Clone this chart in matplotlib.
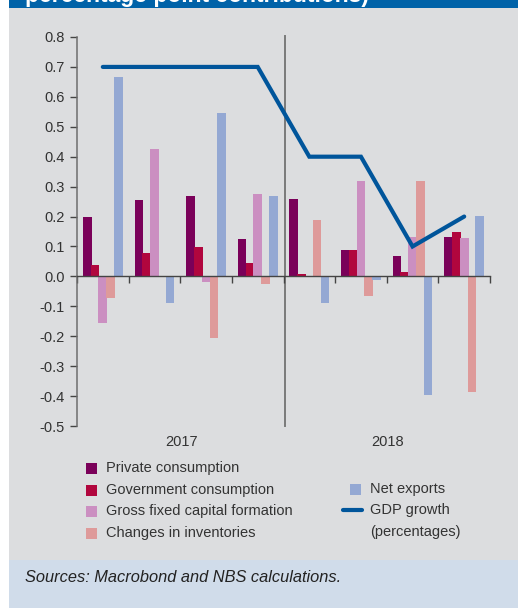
import numpy as np
import matplotlib
matplotlib.use("Agg")
import matplotlib.pyplot as plt
from matplotlib.patches import Rectangle
from matplotlib.lines import Line2D
from matplotlib.ticker import FixedLocator, FixedFormatter

plt.rcParams['font.family'] = ['Liberation Sans', 'DejaVu Sans']

# quarterly contributions, Q1 2017 .. Q4 2018
private = [0.20, 0.255, 0.268, 0.126, 0.26, 0.087, 0.067, 0.13]
government = [0.037, 0.077, 0.097, 0.046, 0.007, 0.087, 0.013, 0.147]
gfcf = [-0.157, 0.425, -0.018, 0.274, 0.0, 0.32, 0.13, 0.127]
inventories = [-0.073, 0.0, -0.205, -0.026, 0.187, -0.067, 0.32, -0.387]
net_exports = [0.665, -0.09, 0.545, 0.268, -0.09, -0.013, -0.397, 0.203]
gdp_growth = [0.7, 0.7, 0.7, 0.7, 0.4, 0.4, 0.1, 0.2]
years = ['2017', '2018']

series = [private, government, gfcf, inventories, net_exports]
names = ['Private consumption', 'Government consumption',
         'Gross fixed capital formation', 'Changes in inventories', 'Net exports']
colors = ['#7a0059', '#b1063e', '#cb8fc1', '#de9a9a', '#94a8d3']
line_color = '#00559b'
text_color = '#333333'

W, H = 518, 608
fig = plt.figure(figsize=(W / 100, H / 100), dpi=100, facecolor='white')


def px(x, y):
    return x / W, 1 - y / H


# panel backgrounds
fig.patches.append(Rectangle(px(9, 560), (W - 9) / W, 552 / H, transform=fig.transFigure,
                             facecolor='#dcdddf', edgecolor='none', zorder=-5))
fig.patches.append(Rectangle(px(9, 608), (W - 9) / W, 48 / H, transform=fig.transFigure,
                             facecolor='#d0dcea', edgecolor='none', zorder=-5))
fig.patches.append(Rectangle(px(9, 8), (W - 9) / W, 8 / H, transform=fig.transFigure,
                             facecolor='#0062a8', edgecolor='none', zorder=-5))
fig.text(*px(25, 2), 'percentage point contributions)', color='white', fontsize=16.5,
         fontweight='bold', va='baseline', ha='left')

ax = fig.add_axes([77 / W, 1 - 426 / H, (490 - 77) / W, (426 - 37) / H])
ax.set_facecolor('none')

n = len(private)
x = np.arange(n) + 0.5
step = 0.151
width = 0.168
for k, (vals, col) in enumerate(zip(series, colors)):
    ax.bar(x + (k - 2) * step, vals, width=width, color=col, edgecolor='none', zorder=2)

ax.plot(x, gdp_growth, color=line_color, linewidth=3, solid_joinstyle='miter',
        solid_capstyle='round', zorder=3)

# divider between the two years
ax.axvline(4.02, color='#7a7a7a', linewidth=1.4, ymin=0, ymax=1.002, zorder=1, clip_on=False)

ax.set_xlim(0, n)
ax.set_ylim(-0.5, 0.8)
for s in ['top', 'right']:
    ax.spines[s].set_visible(False)
ax.spines['left'].set_color('#6e6e6e')
ax.spines['left'].set_linewidth(1.1)
ax.spines['bottom'].set_position(('data', 0))
ax.spines['bottom'].set_color('#444444')
ax.spines['bottom'].set_linewidth(1.0)
ax.spines['bottom'].set_zorder(4)

yt = np.round(np.arange(-0.5, 0.81, 0.1), 1)
ax.yaxis.set_major_locator(FixedLocator(yt))
ax.yaxis.set_major_formatter(FixedFormatter([f'{v:.1f}'.replace('-0.0', '0.0') for v in yt]))
ax.tick_params(axis='y', direction='out', length=5, width=1, color='#444444',
               labelsize=10.5, labelcolor=text_color, pad=4)
ax.xaxis.set_major_locator(FixedLocator(np.arange(0, n + 1)))
ax.tick_params(axis='x', direction='out', length=5, width=1, color='#444444',
               labelbottom=False)

for i, yr in enumerate(years):
    ax.text(2 + 4 * i + 0.02, -0.53, yr, ha='center', va='top',
            fontsize=10.5, color=text_color)

# legend, left column
row_y = [468, 490, 511, 533]
for name, col, yy in zip(names[:4], colors[:4], row_y):
    fig.patches.append(Rectangle(px(86, yy + 5.5), 11 / W, 11 / H, transform=fig.transFigure,
                                 facecolor=col, edgecolor='none'))
    fig.text(*px(106, yy), name, fontsize=10.5, color=text_color, va='center', ha='left')

# legend, right column
fig.patches.append(Rectangle(px(350, 489 + 5.5), 11 / W, 11 / H, transform=fig.transFigure,
                             facecolor=colors[4], edgecolor='none'))
fig.text(*px(370, 489), names[4], fontsize=10.5, color=text_color, va='center', ha='left')
fig.add_artist(Line2D([343 / W, 362 / W], [1 - 510 / H, 1 - 510 / H], transform=fig.transFigure,
                      color=line_color, linewidth=3, solid_capstyle='round'))
fig.text(*px(370, 510), 'GDP growth', fontsize=10.5, color=text_color, va='center', ha='left')
fig.text(*px(370, 532), '(percentages)', fontsize=10.5, color=text_color, va='center', ha='left')

fig.text(*px(25, 577), 'Sources: Macrobond and NBS calculations.', fontsize=11.8,
         style='italic', color='#222222', va='center', ha='left')

fig.savefig('out.png', dpi=100, facecolor='white')
